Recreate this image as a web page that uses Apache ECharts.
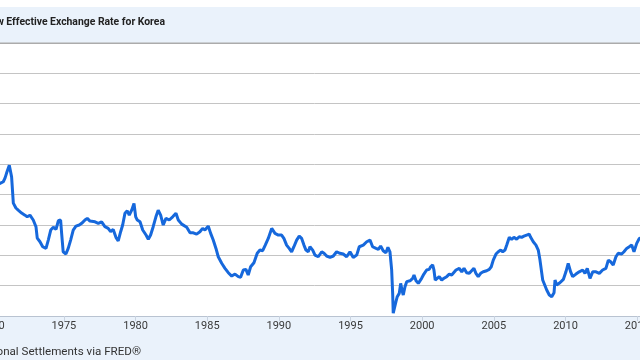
<!DOCTYPE html>
<html>
<head>
<meta charset="utf-8">
<script src="https://cdn.jsdelivr.net/npm/echarts@6/dist/echarts.min.js"></script>
<style>
html,body{margin:0;padding:0;width:640px;height:360px;overflow:hidden;background:#fff;}
#chart{position:absolute;left:-120px;top:0;width:900px;height:360px;}
</style>
</head>
<body>
<div id="chart"></div>
<script>
const titleText = "Real Narrow Effective Exchange Rate for Korea";
const sourceText = "Source: Bank for International Settlements via FRED®";
const xTicks = [1965, 1970, 1975, 1980, 1985, 1990, 1995, 2000, 2005, 2010, 2015, 2020];

const years = [
1970.00,1970.54,1970.77,1970.89,1971.00,1971.19,1971.35,1971.47,1971.65,1971.81,
1972.05,1972.28,1972.44,1972.63,1972.86,1973.05,1973.14,1973.33,1973.52,1973.75,
1973.91,1974.08,1974.26,1974.45,1974.61,1974.77,1974.84,1974.95,1975.14,1975.30,
1975.47,1975.65,1975.84,1976.07,1976.24,1976.47,1976.63,1976.82,1977.17,1977.40,
1977.63,1977.86,1978.09,1978.26,1978.44,1978.63,1978.79,1978.96,1979.10,1979.26,
1979.42,1979.56,1979.73,1979.89,1980.01,1980.12,1980.31,1980.50,1980.73,1980.89,
1981.05,1981.23,1981.42,1981.58,1981.75,1981.93,1982.12,1982.35,1982.59,1982.82,
1982.98,1983.22,1983.33,1983.57,1983.80,1984.03,1984.26,1984.49,1984.68,1984.84,
1985.07,1985.24,1985.42,1985.61,1985.77,1986.01,1986.24,1986.47,1986.71,1986.94,
1987.17,1987.33,1987.52,1987.70,1987.86,1988.03,1988.26,1988.49,1988.68,1988.87,
1989.05,1989.26,1989.50,1989.73,1989.96,1990.19,1990.35,1990.54,1990.72,1990.89,
1991.05,1991.24,1991.42,1991.59,1991.75,1991.89,1992.05,1992.17,1992.36,1992.52,
1992.75,1992.99,1993.15,1993.33,1993.57,1993.80,1994.03,1994.26,1994.49,1994.73,
1994.96,1995.19,1995.43,1995.61,1995.89,1996.13,1996.36,1996.54,1996.78,1996.94,
1997.10,1997.28,1997.47,1997.61,1997.75,1997.87,1997.94,1997.98,1998.08,1998.17,
1998.26,1998.40,1998.50,1998.59,1998.68,1998.80,1998.92,1999.03,1999.15,1999.34,
1999.43,1999.57,1999.73,1999.85,1999.96,2000.12,2000.31,2000.49,2000.59,2000.73,
2000.82,2000.91,2001.05,2001.19,2001.36,2001.52,2001.71,2001.89,2002.06,2002.17,
2002.36,2002.59,2002.76,2002.92,2003.10,2003.29,2003.45,2003.61,2003.75,2003.91,
2004.08,2004.26,2004.50,2004.68,2004.82,2004.96,2005.15,2005.31,2005.48,2005.62,
2005.78,2005.90,2006.08,2006.24,2006.40,2006.59,2006.77,2006.94,2007.10,2007.29,
2007.47,2007.57,2007.75,2007.94,2008.10,2008.22,2008.41,2008.69,2008.87,2009.04,
2009.20,2009.27,2009.38,2009.61,2009.85,2010.03,2010.19,2010.36,2010.50,2010.73,
2010.96,2011.20,2011.36,2011.52,2011.71,2011.90,2012.13,2012.36,2012.59,2012.82,
2012.99,2013.15,2013.33,2013.52,2013.68,2013.92,2014.08,2014.27,2014.45,2014.62,
2014.78,2014.97,2015.15,2015.55
];

const values = [
146.8,147.3,148.4,150.8,154.1,159.3,151.6,134.3,131.1,129.7,
127.8,126.4,125.3,126.4,123.2,118.8,111.3,108.9,105.6,104.5,
110.0,116.6,118.4,117.0,122.7,123.2,114.6,102.3,100.8,104.5,
110.0,116.6,119.2,119.9,121.0,123.2,124.3,122.5,122.0,121.0,
122.0,118.8,117.7,115.5,117.0,111.8,109.5,115.5,119.9,127.6,
129.3,126.4,129.7,134.1,125.3,123.2,122.0,116.6,113.3,110.5,
113.3,118.8,125.3,129.7,126.4,119.9,124.3,123.2,125.3,127.6,
123.2,120.5,119.2,118.4,114.8,114.8,113.9,115.5,117.7,116.6,
119.2,114.4,110.0,104.5,99.0,94.7,91.4,88.5,86.3,87.6,
85.9,85.5,90.3,90.7,87.0,92.4,95.1,101.3,103.4,103.0,
106.7,111.1,117.7,114.4,113.3,113.3,111.1,106.7,104.5,102.3,
105.6,110.0,112.6,111.1,106.7,103.4,102.3,105.6,103.4,100.1,
99.0,102.3,101.3,99.5,98.6,99.5,102.3,101.3,100.8,99.0,
102.3,98.6,100.1,105.6,106.7,108.9,110.0,105.6,104.5,103.9,
106.1,103.0,101.6,105.2,102.3,90.3,74.9,61.8,61.3,69.4,
72.7,74.9,81.5,77.1,73.8,79.3,82.6,83.7,83.2,84.8,
87.0,83.2,81.5,80.4,84.8,87.6,90.3,90.7,92.4,93.6,
90.3,83.7,84.8,85.9,83.7,84.8,85.9,87.6,87.0,87.0,
90.3,91.4,89.1,91.4,88.5,88.1,89.8,91.4,88.1,85.9,
88.1,89.1,89.8,90.7,92.4,96.8,100.8,102.3,103.4,102.3,
103.4,106.7,111.8,110.5,111.8,110.5,112.2,111.8,112.6,113.3,
113.9,111.8,108.9,106.7,103.4,96.8,83.7,77.1,73.8,72.7,
75.3,83.7,80.4,81.9,84.1,89.1,94.7,89.1,85.9,87.6,
89.1,90.3,88.1,91.4,84.8,89.1,89.1,88.1,90.3,91.4,
96.8,95.7,93.6,99.0,101.3,100.8,102.3,104.5,105.6,106.7,
102.3,107.8,111.1,112.0
];

const seriesData = years.map((y, i) => [y, values[i]]);

const chart = echarts.init(document.getElementById('chart'), null, {renderer: 'canvas'});
chart.setOption({
  animation: false,
  backgroundColor: '#ffffff',
  textStyle: {fontFamily: 'Roboto'},
  grid: {left: 40.6, right: 71.2, top: 73, bottom: 44, containLabel: false},
  xAxis: {
    type: 'value',
    min: xTicks[0],
    max: xTicks[xTicks.length - 1],
    interval: 5,
    axisLine: {show: true, lineStyle: {color: '#b9c3d1', width: 1}},
    axisTick: {show: true, length: 5, lineStyle: {color: '#c9d3e0'}},
    axisLabel: {
      color: '#3a3a3a', fontSize: 11, margin: 5, fontFamily: 'Roboto',
      formatter: v => String(Math.round(v))
    },
    splitLine: {show: false}
  },
  yAxis: {
    type: 'value',
    min: 60,
    max: 220,
    interval: 20,
    axisLine: {show: false},
    axisTick: {show: false},
    axisLabel: {show: false},
    splitLine: {show: true, lineStyle: {color: '#c4c4c4', width: 1}}
  },
  graphic: [
    {type: 'rect', z: -10, silent: true, shape: {x: 0, y: 316, width: 900, height: 44}, style: {fill: '#eaf2fb'}},
    {type: 'rect', z: 100, silent: true, shape: {x: 0, y: 7, width: 900, height: 36}, style: {fill: '#eaf2fb'}},
    {type: 'rect', z: 101, silent: true, shape: {x: 0, y: 42.5, width: 900, height: 1.5}, style: {fill: '#ababab'}},
    {type: 'text', z: 102, silent: true, x: 285, y: 22,
      style: {text: titleText, textAlign: 'right', textVerticalAlign: 'middle',
        font: 'bold 10.4px Roboto', fill: '#222222'}},
    {type: 'text', z: 102, silent: true, x: 261, y: 352,
      style: {text: sourceText, textAlign: 'right', textVerticalAlign: 'middle',
        font: '11.6px Roboto', fill: '#333333'}}
  ],
  series: [{
    type: 'line',
    data: seriesData,
    showSymbol: false,
    symbol: 'none',
    lineStyle: {color: '#1668dc', width: 3},
    z: 5
  }]
});
</script>
</body>
</html>
